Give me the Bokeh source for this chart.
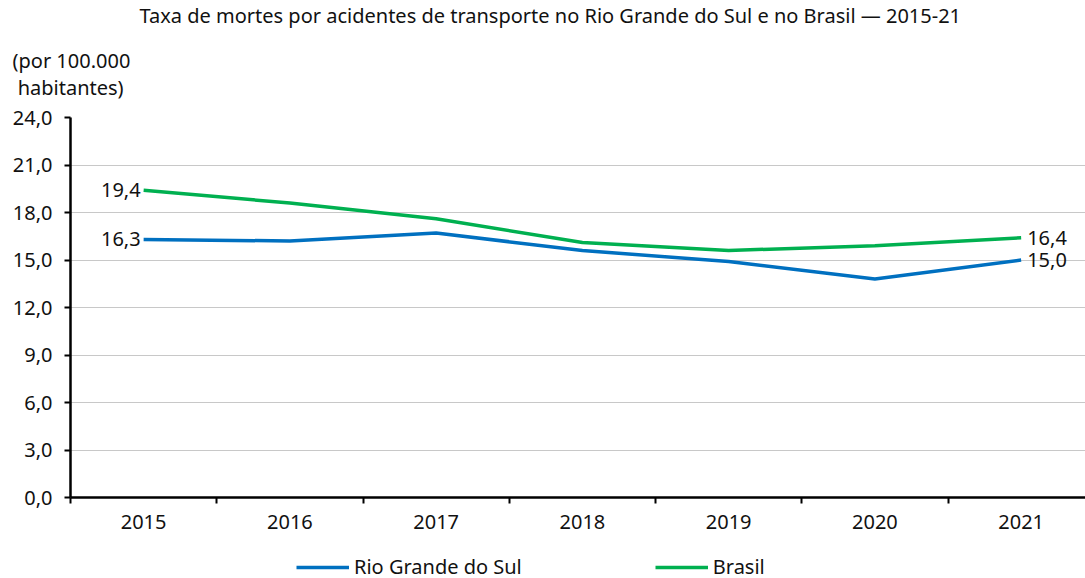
from bokeh.plotting import figure
from bokeh.models import Range1d, FixedTicker, Legend, LegendItem, ColumnDataSource, Title
from bokeh.layouts import column
from bokeh.core.properties import value
from bokeh.embed import file_html
from bokeh.resources import INLINE

years = ["2015", "2016", "2017", "2018", "2019", "2020", "2021"]
rs = [16.3, 16.2, 16.7, 15.6, 14.9, 13.8, 15.0]
brasil = [19.4, 18.6, 17.6, 16.1, 15.6, 15.9, 16.4]
y_ticks = [0, 3, 6, 9, 12, 15, 18, 21, 24]
y_tick_labels = ["0,0", "3,0", "6,0", "9,0", "12,0", "15,0", "18,0", "21,0", "24,0"]

FONT = "Noto Sans"
FS = "20px"
TXT = "#111111"
BLUE = "#0070C0"
GREEN = "#00B050"

xs = [i + 0.5 for i in range(len(years))]

p = figure(width=1085, height=541, output_backend="svg", toolbar_location=None,
           frame_width=1015, frame_height=380,
           min_border_left=70, min_border_right=0, min_border_top=117, min_border_bottom=44,
           x_range=Range1d(0, 6.94), y_range=Range1d(0, 24), title=None)
p.outline_line_color = None
p.background_fill_color = "white"

# axes
p.xaxis.ticker = FixedTicker(ticks=xs, minor_ticks=list(range(len(years) + 1)))
p.xaxis.major_label_overrides = {x: y for x, y in zip(xs, years)}
p.xaxis.major_tick_out = 0
p.xaxis.major_tick_in = 0
p.xaxis.minor_tick_out = 6
p.xaxis.minor_tick_in = 0
p.xaxis.minor_tick_line_color = "black"
p.xaxis.minor_tick_line_width = 2
p.xaxis.axis_line_width = 2.5
p.xaxis.axis_line_color = "black"
p.xaxis.major_label_standoff = 11

p.yaxis.ticker = FixedTicker(ticks=y_ticks, minor_ticks=[])
p.yaxis.major_label_overrides = {t: l for t, l in zip(y_ticks, y_tick_labels)}
p.yaxis.major_tick_out = 6
p.yaxis.major_tick_in = 0
p.yaxis.major_tick_line_width = 2
p.yaxis.major_tick_line_color = "black"
p.yaxis.axis_line_width = 2.5
p.yaxis.axis_line_color = "black"
p.yaxis.major_label_standoff = 12

for ax in (p.xaxis, p.yaxis):
    ax.major_label_text_font = FONT
    ax.major_label_text_font_size = FS
    ax.major_label_text_color = TXT

p.xgrid.grid_line_color = None
p.ygrid.ticker = FixedTicker(ticks=y_ticks)
p.ygrid.grid_line_color = "#c8c8c8"
p.ygrid.grid_line_width = 1

# lines
p.line(xs, rs, line_color=BLUE, line_width=3.5)
p.line(xs, brasil, line_color=GREEN, line_width=3.5)

# end labels
def fmt(v):
    return f"{v:.1f}".replace(".", ",")

left_src = ColumnDataSource(dict(x=[xs[0], xs[0]], y=[rs[0], brasil[0]],
                                 t=[fmt(rs[0]), fmt(brasil[0])]))
right_src = ColumnDataSource(dict(x=[xs[-1], xs[-1]], y=[rs[-1], brasil[-1]],
                                  t=[fmt(rs[-1]), fmt(brasil[-1])]))
p.text(x="x", y="y", text="t", source=left_src, text_align="right", text_baseline="middle",
       x_offset=-3, text_font=value(FONT), text_font_size=FS, text_color=TXT)
p.text(x="x", y="y", text="t", source=right_src, text_align="left", text_baseline="middle",
       x_offset=6, text_font=value(FONT), text_font_size=FS, text_color=TXT)

# titles (later additions sit further from the frame)
p.add_layout(Title(text="(por 100.000\n\u00a0habitantes)", align="left", offset=-58, standoff=34,
                   text_font=FONT, text_font_size=FS, text_font_style="normal",
                   text_color=TXT), "above")
p.add_layout(Title(text="Taxa de mortes por acidentes de transporte no Rio Grande do Sul e no Brasil — 2015-21",
                   align="left", offset=69, standoff=-2,
                   text_font=FONT, text_font_size=FS, text_font_style="normal",
                   text_color=TXT), "above")

# legend strip (separate figure so the legend is not clipped by the main frame)
lf = figure(width=1085, height=37, output_backend="svg", toolbar_location=None,
            min_border=0, min_border_left=0, min_border_right=0,
            min_border_top=0, min_border_bottom=0,
            x_range=Range1d(0, 6.94), y_range=Range1d(100, 101),
            x_axis_location=None, y_axis_location=None, title=None)
lf.outline_line_color = None
lf.xgrid.grid_line_color = None
lf.ygrid.grid_line_color = None
l_rs = lf.line(xs, rs, line_color=BLUE, line_width=3.5)
l_br = lf.line(xs, brasil, line_color=GREEN, line_width=3.5)

lg = Legend(items=[LegendItem(label="Rio Grande do Sul", renderers=[l_rs]),
                   LegendItem(label="Brasil", renderers=[l_br])],
            location=(226, -2), orientation="horizontal", padding=0, margin=0, spacing=133,
            border_line_color=None, background_fill_alpha=0, glyph_width=53, label_standoff=5,
            label_text_font=FONT, label_text_font_size=FS, label_text_color=TXT)
lf.add_layout(lg, "center")

layout = column(p, lf, spacing=0)
open("out.html", "w").write(file_html(layout, INLINE))
